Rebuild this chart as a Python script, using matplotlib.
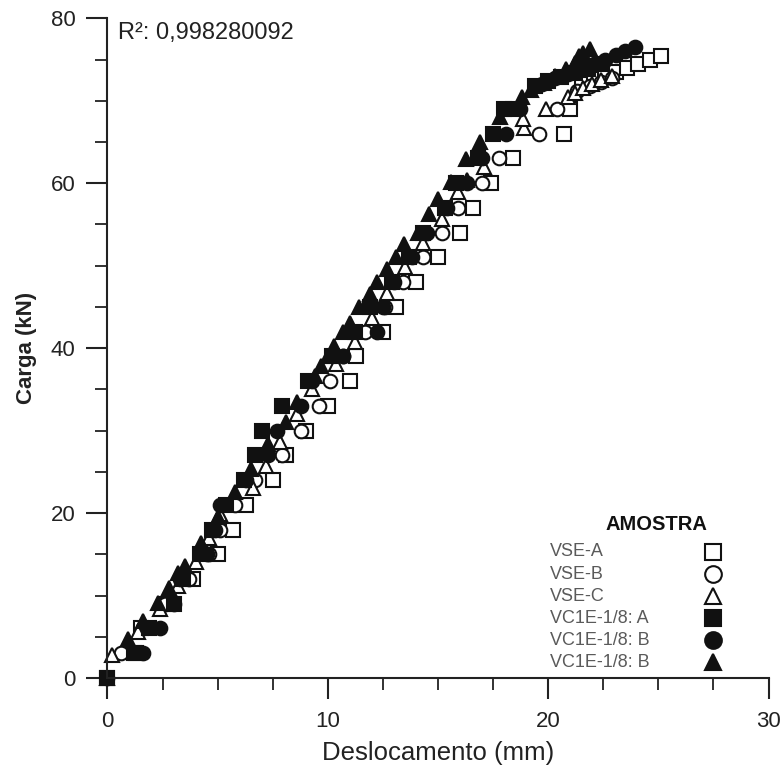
import matplotlib
matplotlib.use("Agg")
import matplotlib.pyplot as plt
from matplotlib.ticker import MultipleLocator

plt.rcParams['font.family'] = ['Liberation Sans', 'DejaVu Sans']

# Dados (deslocamento em mm, carga em kN)
desloc_vse_a = [0, 1.3, 1.5, 2.7, 3.9, 5.0, 5.7, 6.3, 7.5, 8.1, 9.0, 10.0, 11.0, 11.3, 12.5, 13.1,
                14.0, 15.0, 16.0, 16.6, 17.4, 18.4, 20.7, 21.0, 21.55, 22.1, 22.6, 23.1, 23.6, 24.1,
                24.6, 25.1]
carga_vse_a = [0, 3, 6, 9, 12, 15, 18, 21, 24, 27, 30, 33, 36, 39, 42, 45,
               48, 51, 54, 57, 60, 63, 66, 69, 72.0, 72.6, 73.1, 73.5, 74.0, 74.5,
               74.9, 75.4]

desloc_vse_b = [0, 0.6, 1.6, 2.6, 3.7, 4.6, 5.1, 5.8, 6.7, 7.9, 8.8, 9.6, 10.1, 10.7, 11.7, 12.6,
                13.4, 14.3, 15.2, 15.9, 17.0, 17.75, 19.6, 20.4, 21.3, 21.9, 22.4, 22.9]
carga_vse_b = [0, 3, 6, 9, 12, 15, 18, 21, 24, 27, 30, 33, 36, 39, 42, 45,
               48, 51, 54, 57, 60, 63, 66, 69, 71.2, 71.8, 72.3, 72.8]

desloc_vse_c = [0, 0.2, 1.4, 2.4, 3.2, 4.0, 4.6, 5.1, 6.6, 7.2, 7.85, 8.6, 9.3, 10.35, 11.25, 12.0,
                12.7, 13.5, 14.3, 15.2, 15.9, 17.1, 18.9, 18.85, 19.9, 20.9, 21.2, 21.6, 22.0, 22.4,
                22.9]
carga_vse_c = [0, 2.8, 5.6, 8.4, 11.2, 14.1, 17.0, 19.9, 23.0, 25.7, 28.6, 32.0, 35.1, 38.1, 40.7, 43.7,
               46.7, 49.8, 52.7, 55.7, 58.9, 62.0, 66.7, 67.8, 69.0, 70.4, 71.0, 71.5, 72.0, 72.5,
               73.0]

desloc_vc1e_a = [0, 1.2, 1.9, 3.0, 3.45, 4.2, 4.75, 5.4, 6.2, 6.7, 7.0, 7.9, 9.1, 10.2, 11.25, 11.9,
                 12.9, 13.7, 14.3, 15.3, 15.8, 16.8, 17.5, 18.0, 18.4, 19.4, 20.0, 20.6, 21.2, 21.8,
                 22.4]
carga_vc1e_a = [0, 3, 6, 9, 12, 15, 18, 21, 24, 27, 30, 33, 36, 39, 42, 45,
                48, 51, 54, 57, 60, 63, 66, 69, 69, 71.8, 72.4, 72.9, 73.4, 73.9,
                74.4]

desloc_vc1e_b = [1.6, 2.4, 3.0, 3.3, 4.5, 4.9, 5.1, 6.3, 7.3, 7.7, 8.8, 9.3, 10.7, 12.25, 12.5, 13.0,
                 13.8, 14.5, 15.4, 16.3, 17.0, 18.1, 18.7, 19.7, 20.3, 20.9, 21.5, 22.1, 22.6, 23.1,
                 23.5, 23.95]
carga_vc1e_b = [3, 6, 9, 12, 15, 18, 21, 24, 27, 30, 33, 36, 39, 42, 45, 48,
                51, 54, 57, 60, 63, 66, 69, 72.0, 72.7, 73.3, 73.9, 74.5, 75.0, 75.5,
                76.0, 76.5]

desloc_vc1e_b2 = [0.95, 1.6, 2.3, 2.8, 3.2, 3.5, 4.25, 5.0, 5.8, 6.5, 7.3, 8.1, 8.6, 9.4, 9.7, 10.0,
                  10.3, 10.7, 11.0, 11.4, 11.9, 12.25, 12.7, 13.1, 13.45, 14.1, 14.6, 15.0, 15.6, 16.3,
                  16.25, 16.9, 17.8, 18.8, 19.2, 19.8, 20.3, 20.8, 21.2, 21.4, 21.6, 21.9]
carga_vc1e_b2 = [4.7, 6.9, 9.1, 10.9, 12.7, 13.6, 16.4, 19.5, 22.5, 25.4, 28.4, 31.0, 33.5, 36.6, 37.8, 39.0,
                 40.3, 42.0, 43.1, 45.0, 46.6, 48.0, 49.6, 51.0, 52.6, 54.0, 56.3, 58.1, 60.2, 60.4,
                 62.9, 65.0, 68.0, 70.4, 71.3, 72.2, 73.0, 73.8, 74.6, 75.4, 75.8, 76.3]

nomes = ['VSE-A', 'VSE-B', 'VSE-C', 'VC1E-1/8: A', 'VC1E-1/8: B', 'VC1E-1/8: B']
marcadores = ['s', 'o', '^', 's', 'o', '^']
preenchido = [False, False, False, True, True, True]
series = [(desloc_vse_a, carga_vse_a), (desloc_vse_b, carga_vse_b), (desloc_vse_c, carga_vse_c),
          (desloc_vc1e_a, carga_vc1e_a), (desloc_vc1e_b, carga_vc1e_b), (desloc_vc1e_b2, carga_vc1e_b2)]

fig = plt.figure(figsize=(7.81, 7.72), dpi=100)
ax = fig.add_axes([0.1376, 0.1218, 0.8464, 0.8545])

for (x, y), m, f in zip(series, marcadores, preenchido):
    face = '#111111' if f else 'white'
    ax.plot(x, y, linestyle='none', marker=m, markersize=9.8, markerfacecolor=face,
            markeredgecolor='#111111', markeredgewidth=1.5, clip_on=False)

ax.set_xlim(0, 30)
ax.set_ylim(0, 80)
ax.xaxis.set_major_locator(MultipleLocator(10))
ax.xaxis.set_minor_locator(MultipleLocator(2.5))
ax.yaxis.set_major_locator(MultipleLocator(20))
ax.yaxis.set_minor_locator(MultipleLocator(5))

for s in ['top', 'right']:
    ax.spines[s].set_visible(False)
for s in ['left', 'bottom']:
    ax.spines[s].set_linewidth(1.5)
    ax.spines[s].set_color('#222222')

ax.tick_params(which='major', direction='out', length=15, width=1.5, labelsize=16,
               colors='#222222', pad=8)
ax.tick_params(which='minor', direction='out', length=8.5, width=1.3, colors='#222222')
ax.tick_params(axis='x', which='major', pad=9)

ax.set_xlabel('Deslocamento (mm)', fontsize=18.5, color='#222222', labelpad=6)
ax.set_ylabel('Carga (kN)', fontsize=16, fontweight='bold', color='#222222', labelpad=10)

ax.text(0.016, 0.977, 'R²: 0,998280092', transform=ax.transAxes, fontsize=17,
        va='center', ha='left', color='#222222')

# legenda manual (texto à esquerda, símbolo à direita)
ax.text(0.831, 0.232, 'AMOSTRA', transform=ax.transAxes, fontsize=14.5, fontweight='bold',
        ha='center', va='center', color='#111111')
y0 = 0.191
passo = 0.0334
for i, (nome, m, f) in enumerate(zip(nomes, marcadores, preenchido)):
    yy = y0 - i * passo
    ax.text(0.669, yy, nome, transform=ax.transAxes, fontsize=13, ha='left', va='center',
            color='#5a5a5a')
    face = '#111111' if f else 'white'
    ax.plot([0.916], [yy], transform=ax.transAxes, linestyle='none', marker=m, markersize=12,
            markerfacecolor=face, markeredgecolor='#111111', markeredgewidth=1.5, clip_on=False)

fig.savefig('out.png', dpi=100)
